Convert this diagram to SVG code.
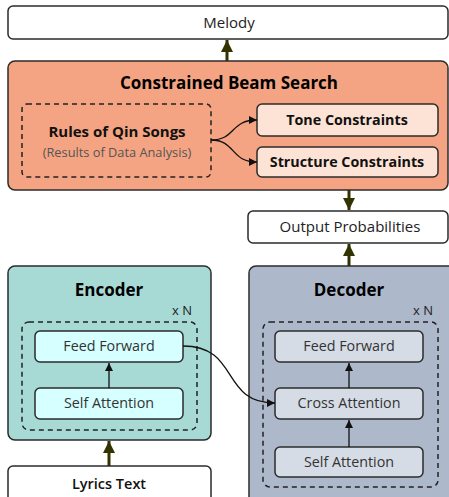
<svg xmlns="http://www.w3.org/2000/svg" width="449" height="497" viewBox="0 0 449 497">
<defs>
<style>
text{font-family:"Open Sans","Noto Sans","DejaVu Sans",sans-serif;text-anchor:middle}
.box{stroke:#2b2b2b;stroke-width:1.5}
.dash{fill:none;stroke:#222;stroke-width:1.5;stroke-dasharray:5,4}
.title{font-weight:bold;font-size:17px;fill:#000}
.bold{font-weight:bold;font-size:14.3px;fill:#111}
.lbl{font-size:14.3px;fill:#333}
.big{stroke:#333300;stroke-width:3;fill:none}
.thin{stroke:#111;stroke-width:1.3;fill:none}
</style>
<marker id="ab" viewBox="0 0 10 10" refX="10" refY="5" markerWidth="12" markerHeight="13" markerUnits="userSpaceOnUse" orient="auto">
<path d="M0,0 L10,5 L0,10 Z" fill="#333300"/>
</marker>
<marker id="at" viewBox="0 0 10 10" refX="10" refY="5" markerWidth="10" markerHeight="8" markerUnits="userSpaceOnUse" orient="auto">
<path d="M0,0 L10,5 L0,10 Z" fill="#111"/>
</marker>
</defs>
<g id="connectors">
<line class="big" x1="227" y1="61" x2="227" y2="40" marker-end="url(#ab)"/>
<line class="big" x1="349" y1="190" x2="349" y2="210" marker-end="url(#ab)"/>
<line class="big" x1="349" y1="266" x2="349" y2="244" marker-end="url(#ab)"/>
<line class="big" x1="109" y1="466" x2="109" y2="441" marker-end="url(#ab)"/>
</g>
<g id="melody"><rect class="box" x="8" y="6" width="440" height="33" rx="5" fill="#fff"/><text x="229" y="28" style="font-size:15px;fill:#222">Melody</text></g>
<g id="beam-search">
<rect class="box" x="8" y="61" width="440" height="129" rx="7" fill="#F4A482"/>
<text class="title" x="229" y="89">Constrained Beam Search</text>
<g id="rules"><rect class="dash" x="22" y="104" width="189" height="73" rx="5"/>
<text class="bold" x="117" y="137" style="font-size:15px">Rules of Qin Songs</text>
<text x="117" y="157" style="font-size:12.8px;fill:#555">(Results of Data Analysis)</text></g>
<g id="tone"><rect class="box" x="257" y="104" width="181" height="32" rx="5" fill="#FDE3D5"/><text class="bold" x="347" y="125">Tone Constraints</text></g>
<g id="structure"><rect class="box" x="257" y="147" width="181" height="30" rx="5" fill="#FDE3D5"/><text class="bold" x="347" y="167">Structure Constraints</text></g>
</g>
<g id="output"><rect class="box" x="248" y="211" width="200" height="32" rx="5" fill="#fff"/><text class="lbl" x="350" y="232" style="fill:#222;font-size:15px">Output Probabilities</text></g>
<g id="encoder">
<rect class="box" x="8" y="266" width="203" height="174" rx="7" fill="#A8DAD5"/>
<text class="title" x="109" y="296">Encoder</text>
<text x="182" y="315" style="font-size:13px;fill:#222">x N</text>
<rect class="dash" x="22" y="322" width="175" height="108" rx="7"/>
<g id="enc-ff"><rect class="box" x="35" y="331" width="148" height="31" rx="5" fill="#D6FFFF"/><text class="lbl" x="109" y="351">Feed Forward</text></g>
<g id="enc-sa"><rect class="box" x="35" y="388" width="148" height="31" rx="5" fill="#D6FFFF"/><text class="lbl" x="109" y="408">Self Attention</text></g>
</g>
<g id="decoder">
<rect class="box" x="249" y="266" width="210" height="240" rx="7" fill="#AEB8CB"/>
<text class="title" x="349" y="296">Decoder</text>
<text x="423" y="315" style="font-size:13px;fill:#222">x N</text>
<rect class="dash" x="263" y="322" width="175" height="165" rx="7"/>
<g id="dec-ff"><rect class="box" x="275" y="331" width="148" height="31" rx="5" fill="#D6DCE6"/><text class="lbl" x="349" y="351">Feed Forward</text></g>
<g id="dec-ca"><rect class="box" x="275" y="388" width="148" height="31" rx="5" fill="#D6DCE6"/><text class="lbl" x="349" y="408">Cross Attention</text></g>
<g id="dec-sa"><rect class="box" x="275" y="447" width="148" height="30" rx="5" fill="#D6DCE6"/><text class="lbl" x="349" y="467">Self Attention</text></g>
</g>
<g id="lyrics"><rect class="box" x="8" y="466" width="203" height="40" rx="5" fill="#fff"/><text x="109" y="489" style="font-size:14.5px;font-weight:600;fill:#111">Lyrics Text</text></g>
<g id="inner-connectors">
<path class="thin" d="M211,140 C236,140 230,120 257,120" marker-end="url(#at)"/>
<path class="thin" d="M211,140 C236,140 230,162 257,162" marker-end="url(#at)"/>
<line class="thin" x1="109" y1="388" x2="109" y2="363" marker-end="url(#at)"/>
<line class="thin" x1="349" y1="388" x2="349" y2="363" marker-end="url(#at)"/>
<line class="thin" x1="349" y1="447" x2="349" y2="420" marker-end="url(#at)"/>
<path class="thin" d="M183,346 C240,346 220,403 275,403" marker-end="url(#at)"/>
</g>
</svg>
